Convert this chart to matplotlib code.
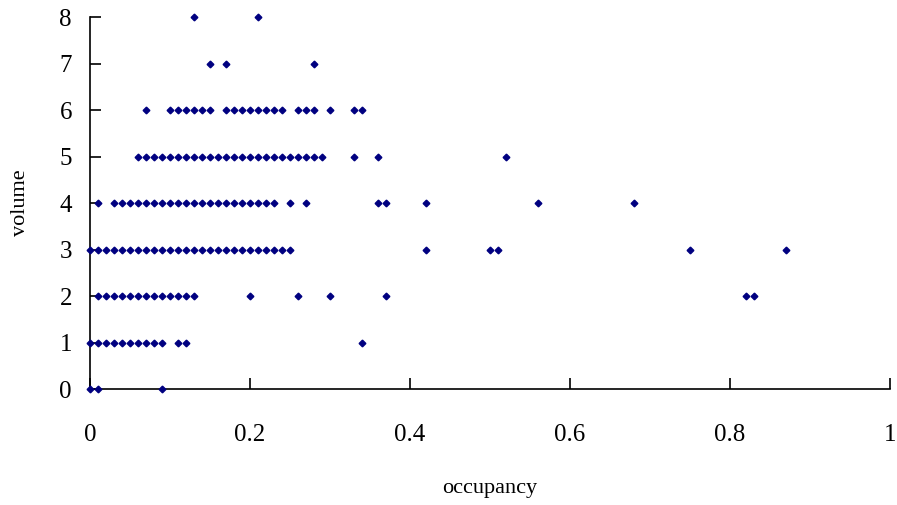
import numpy as np
import matplotlib
matplotlib.use("Agg")
import matplotlib.pyplot as plt

# occupancy values observed at each volume level
occ_v0 = [0.00, 0.01, 0.09]
occ_v1 = [0.00, 0.01, 0.02, 0.03, 0.04, 0.05, 0.06, 0.07, 0.08, 0.09,
          0.11, 0.12, 0.34]
occ_v2 = [0.01, 0.02, 0.03, 0.04, 0.05, 0.06, 0.07, 0.08, 0.09, 0.10,
          0.11, 0.12, 0.13, 0.20, 0.26, 0.30, 0.37, 0.82, 0.83]
occ_v3 = [0.00, 0.01, 0.02, 0.03, 0.04, 0.05, 0.06, 0.07, 0.08, 0.09,
          0.10, 0.11, 0.12, 0.13, 0.14, 0.15, 0.16, 0.17, 0.18, 0.19,
          0.20, 0.21, 0.22, 0.23, 0.24, 0.25, 0.42, 0.50, 0.51, 0.75, 0.87]
occ_v4 = [0.01, 0.03, 0.04, 0.05, 0.06, 0.07, 0.08, 0.09, 0.10, 0.11,
          0.12, 0.13, 0.14, 0.15, 0.16, 0.17, 0.18, 0.19, 0.20, 0.21,
          0.22, 0.23, 0.25, 0.27, 0.36, 0.37, 0.42, 0.56, 0.68]
occ_v5 = [0.06, 0.07, 0.08, 0.09, 0.10, 0.11, 0.12, 0.13, 0.14, 0.15,
          0.16, 0.17, 0.18, 0.19, 0.20, 0.21, 0.22, 0.23, 0.24, 0.25,
          0.26, 0.27, 0.28, 0.29, 0.33, 0.36, 0.52]
occ_v6 = [0.07, 0.10, 0.11, 0.12, 0.13, 0.14, 0.15, 0.17, 0.18, 0.19,
          0.20, 0.21, 0.22, 0.23, 0.24, 0.26, 0.27, 0.28, 0.30, 0.33, 0.34]
occ_v7 = [0.15, 0.17, 0.28]
occ_v8 = [0.13, 0.21]

levels = [occ_v0, occ_v1, occ_v2, occ_v3, occ_v4, occ_v5, occ_v6, occ_v7, occ_v8]
occupancy = np.concatenate([np.array(l) for l in levels])
volume = np.concatenate([np.full(len(l), v) for v, l in enumerate(levels)])

x_ticks = [0, 0.2, 0.4, 0.6, 0.8, 1]
x_tick_labels = ["0", "0.2", "0.4", "0.6", "0.8", "1"]
y_ticks = list(range(9))

plt.rcParams['font.family'] = ['Liberation Serif', 'DejaVu Serif']

fig = plt.figure(figsize=(8.97, 5.05), dpi=100)
ax = fig.add_axes([0.1003, 0.2297, 0.8917, 0.7366])

ax.plot(occupancy, volume, linestyle='none', marker='D', markersize=3.4,
        color='#000080', clip_on=False, zorder=3)

ax.set_xlim(0, 1)
ax.set_ylim(0, 8)
ax.set_xticks(x_ticks)
ax.set_xticklabels(x_tick_labels)
ax.set_yticks(y_ticks)

for side in ['top', 'right']:
    ax.spines[side].set_visible(False)
for side in ['left', 'bottom']:
    ax.spines[side].set_linewidth(1.2)

ax.tick_params(axis='both', direction='in', length=8, width=1.2,
               labelsize=18)
ax.tick_params(axis='y', pad=13)
ax.tick_params(axis='x', pad=25)

ax.set_xlabel('occupancy', fontsize=16, labelpad=24)
ax.set_ylabel('volume', fontsize=16, labelpad=21)

fig.savefig('out.png', dpi=100)
